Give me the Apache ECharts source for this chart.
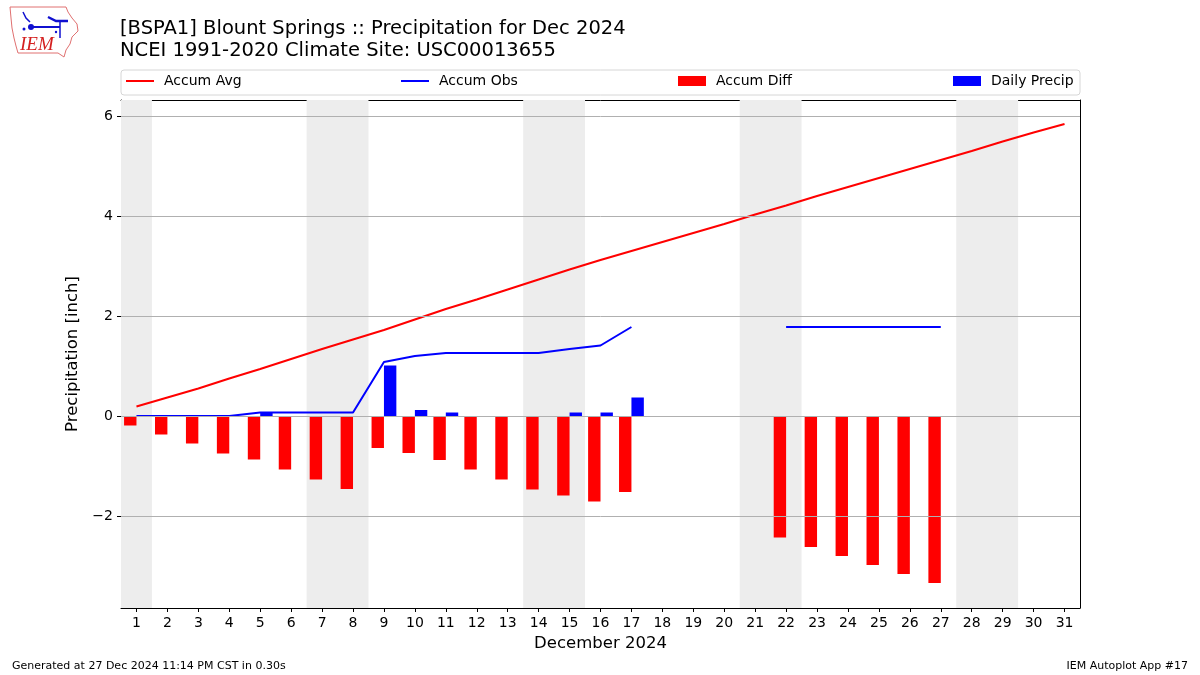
<!DOCTYPE html>
<html><head><meta charset="utf-8">
<script src="https://cdn.jsdelivr.net/npm/echarts@6/dist/echarts.min.js"></script>
<style>html,body{margin:0;padding:0;background:#fff}#c{width:1200px;height:675px}</style>
</head><body><div id="c"></div>
<script>
const days = ['1','2','3','4','5','6','7','8','9','10','11','12','13','14','15','16','17','18','19','20','21','22','23','24','25','26','27','28','29','30','31'];
const accumAvg = [0.19,0.37,0.55,0.75,0.94,1.14,1.34,1.53,1.72,1.93,2.14,2.33,2.53,2.73,2.93,3.12,3.30,3.48,3.66,3.84,4.03,4.21,4.40,4.58,4.76,4.94,5.12,5.30,5.49,5.67,5.84];
const accumObs = [0,0,0,0,0.07,0.07,0.07,0.07,1.08,1.20,1.26,1.26,1.26,1.26,1.34,1.41,1.78,null,null,null,null,1.78,1.78,1.78,1.78,1.78,1.78,null,null,null,null];
const accumDiff = [-0.19,-0.37,-0.55,-0.75,-0.87,-1.07,-1.27,-1.46,-0.64,-0.74,-0.88,-1.07,-1.27,-1.47,-1.59,-1.71,-1.52,null,null,null,null,-2.43,-2.62,-2.80,-2.98,-3.16,-3.34,null,null,null,null];
const dailyPrecip = [0,0,0,0,0.07,0,0,0,1.01,0.12,0.07,0,0,0,0.07,0.07,0.37,null,null,null,null,0,0,0,0,0,0,null,null,null,null];
const weekendBands = [[0.5,1.5],[6.5,8.5],[13.5,15.5],[20.5,22.5],[27.5,29.5]];
const yTicks = [-2,0,2,4,6];

const FONT = 'DejaVu Sans';
const chart = echarts.init(document.getElementById('c'), null, {renderer:'canvas'});
const fmtMinus = v => v < 0 ? '\u2212' + Math.abs(v) : String(v);

const legendBase = {top: 69, itemGap: 10, textStyle:{fontFamily:FONT,fontSize:14,color:'#000',padding:[0,0,0,5]}, selectedMode:false};
chart.setOption({
  animation:false,
  backgroundColor:'#fff',
  title:[
    {text:'[BSPA1] Blount Springs :: Precipitation for Dec 2024\nNCEI 1991-2020 Climate Site: USC00013655', left:120, top:18, padding:0,
     textStyle:{fontFamily:FONT,fontSize:19.5,fontWeight:'normal',color:'#000',lineHeight:22}},
    {text:'Generated at 27 Dec 2024 11:14 PM CST in 0.30s', left:12, top:661, padding:0, textStyle:{fontFamily:FONT,fontSize:11,fontWeight:'normal',color:'#000'}},
    {text:'IEM Autoplot App #17', right:12, top:661, padding:0, textStyle:{fontFamily:FONT,fontSize:11,fontWeight:'normal',color:'#000'}}
  ],
  legend:[
    Object.assign({}, legendBase, {left:121, data:[{name:'Accum Avg', icon:'rect'}], itemWidth:28, itemHeight:2}),
    Object.assign({}, legendBase, {left:396, data:[{name:'Accum Obs', icon:'rect'}], itemWidth:28, itemHeight:2}),
    Object.assign({}, legendBase, {left:673, data:[{name:'Accum Diff', icon:'rect'}], itemWidth:28, itemHeight:10}),
    Object.assign({}, legendBase, {left:948, data:[{name:'Daily Precip', icon:'rect'}], itemWidth:28, itemHeight:10})
  ],
  graphic:[
    {type:'rect', shape:{x:121,y:70,width:959,height:25,r:3}, style:{fill:'rgba(255,255,255,0.8)',stroke:'#d6d6d6',lineWidth:1}, z:-1},
    {type:'polygon', shape:{points:[[10,7],[66,7],[68,12],[72,18],[77,24],[78,31],[72,37],[70,44],[66,50],[64,57],[58,53],[18,53],[16,46],[14,38],[12,28],[11,18]]}, style:{fill:'none',stroke:'#e07070',lineWidth:1}},
    {type:'text', left:20, top:35, style:{text:'IEM', fontFamily:'Liberation Serif', fontStyle:'italic', fontSize:19, fill:'#d42020'}},
    {type:'polyline', shape:{points:[[30,27],[60,27]]}, style:{stroke:'#1010d0',lineWidth:2}},
    {type:'circle', shape:{cx:31,cy:27,r:3}, style:{fill:'#1010d0'}},
    {type:'polyline', shape:{points:[[23,12],[26,18],[30,22]]}, style:{stroke:'#1010d0',lineWidth:1.5,fill:'none'}},
    {type:'polyline', shape:{points:[[48,17],[56,21],[68,21]]}, style:{stroke:'#1010d0',lineWidth:2.5,fill:'none'}},
    {type:'polyline', shape:{points:[[60,21],[60,38]]}, style:{stroke:'#1010d0',lineWidth:1.5}},
    {type:'circle', shape:{cx:24,cy:29,r:1.5}, style:{fill:'#1010d0'}},
    {type:'circle', shape:{cx:56,cy:32,r:1.2}, style:{fill:'#1010d0'}}
  ],
  grid:{left:121, right:120, top:100, bottom:67, containLabel:false},
  xAxis:[
    {type:'category', data:days, boundaryGap:true, position:'bottom',
     axisLine:{show:true,onZero:false,lineStyle:{color:'#000',width:1}},
     axisTick:{show:true,alignWithLabel:true,length:4,lineStyle:{color:'#000'}},
     axisLabel:{fontFamily:FONT,fontSize:14,color:'#000',margin:8,interval:0},
     splitLine:{show:false},
     name:'December 2024', nameLocation:'middle', nameGap:27, nameTextStyle:{fontFamily:FONT,fontSize:16.5,color:'#000'}},
    {type:'value', min:0.5, max:31.5, position:'top', show:true,
     axisLine:{show:true,onZero:false,lineStyle:{color:'#000',width:1}}, axisTick:{show:false}, axisLabel:{show:false}, splitLine:{show:false}}
  ],
  yAxis:[
    {type:'value', min:-3.84, max:6.32,
     axisLine:{show:true,onZero:false,lineStyle:{color:'#000',width:1}},
     axisTick:{show:true,length:4,lineStyle:{color:'#000'},customValues:yTicks},
     axisLabel:{fontFamily:FONT,fontSize:14,color:'#000',margin:8,customValues:yTicks,formatter:fmtMinus},
     splitLine:{show:false},
     name:'Precipitation [inch]', nameLocation:'middle', nameGap:34, nameRotate:90, nameTextStyle:{fontFamily:FONT,fontSize:16.5,color:'#000'}},
    {type:'value', min:-3.84, max:6.32, position:'right',
     axisLine:{show:true,onZero:false,lineStyle:{color:'#000',width:1}}, axisTick:{show:false}, axisLabel:{show:false}, splitLine:{show:false}}
  ],
  series:[
    {name:'bands', type:'line', xAxisIndex:1, yAxisIndex:0, data:[], silent:true, z:0,
     markArea:{silent:true, itemStyle:{color:'#ededed'}, data: weekendBands.map(b=>[{xAxis:b[0]},{xAxis:b[1]}])},
     markLine:{silent:true, symbol:'none', label:{show:false}, lineStyle:{color:'#b0b0b0',width:1,type:'solid'}, data: yTicks.map(v=>({yAxis:v}))}
    },
    {name:'Accum Diff', type:'bar', data:accumDiff, barWidth:12.4, barGap:'0%', itemStyle:{color:'#ff0000'}, z:3},
    {name:'Daily Precip', type:'bar', data:dailyPrecip, barWidth:12.4, barGap:'0%', itemStyle:{color:'#0000ff'}, z:3},
    {name:'Accum Avg', type:'line', data:accumAvg, showSymbol:false, symbol:'none', lineStyle:{color:'#ff0000',width:2}, itemStyle:{color:'#ff0000'}, z:4},
    {name:'Accum Obs', type:'line', data:accumObs, showSymbol:false, symbol:'none', connectNulls:false, lineStyle:{color:'#0000ff',width:2}, itemStyle:{color:'#0000ff'}, z:4}
  ]
});
</script></body></html>
